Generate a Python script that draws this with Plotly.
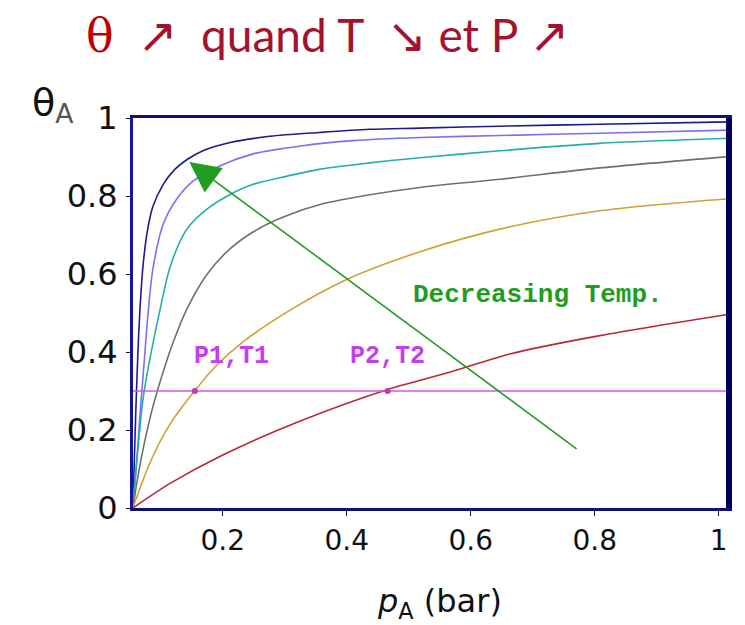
import plotly.graph_objects as go

# ---- data (p_A in bar, theta_A) ----
navy_x = [0.055, 0.057, 0.060, 0.063, 0.066, 0.071, 0.078, 0.087, 0.104, 0.123, 0.142, 0.168, 0.212, 0.276, 0.357, 0.437, 0.518, 0.647, 0.808, 1.016]
navy_y = [0.0, 0.105, 0.262, 0.393, 0.497, 0.615, 0.707, 0.772, 0.830, 0.869, 0.893, 0.916, 0.937, 0.953, 0.963, 0.971, 0.974, 0.979, 0.984, 0.990]

purple_x = [0.055, 0.062, 0.068, 0.074, 0.079, 0.087, 0.104, 0.126, 0.152, 0.195, 0.249, 0.329, 0.410, 0.518, 0.647, 0.808, 1.016]
purple_y = [0.0, 0.140, 0.270, 0.390, 0.490, 0.610, 0.728, 0.793, 0.838, 0.877, 0.908, 0.929, 0.942, 0.950, 0.955, 0.961, 0.969]

teal_x = [0.055, 0.062, 0.071, 0.079, 0.087, 0.099, 0.115, 0.142, 0.175, 0.212, 0.249, 0.304, 0.357, 0.437, 0.518, 0.647, 0.808, 1.016]
teal_y = [0.0, 0.131, 0.275, 0.353, 0.419, 0.510, 0.618, 0.715, 0.767, 0.804, 0.830, 0.851, 0.869, 0.885, 0.898, 0.916, 0.935, 0.948]

gray_x = [0.055, 0.063, 0.074, 0.087, 0.104, 0.120, 0.142, 0.175, 0.212, 0.260, 0.304, 0.357, 0.437, 0.518, 0.647, 0.808, 1.016]
gray_y = [0.0, 0.080, 0.170, 0.258, 0.350, 0.425, 0.510, 0.600, 0.665, 0.718, 0.750, 0.778, 0.803, 0.822, 0.843, 0.872, 0.901]

orange_x = [0.055, 0.083, 0.115, 0.155, 0.187, 0.231, 0.304, 0.400, 0.518, 0.647, 0.808, 1.016]
orange_y = [0.0, 0.118, 0.215, 0.301, 0.361, 0.424, 0.503, 0.586, 0.657, 0.715, 0.762, 0.793]

red_x = [0.055, 0.115, 0.200, 0.325, 0.466, 0.566, 0.663, 0.808, 1.016]
red_y = [0.0, 0.063, 0.136, 0.223, 0.304, 0.348, 0.395, 0.442, 0.497]

level_x = [0.055, 1.016]
level_theta = 0.3
point_x = [0.155, 0.466]
point_labels = ["P1,T1", "P2,T2"]

x_ticks = [0.2, 0.4, 0.6, 0.8, 1]
x_tick_text = ["0.2", "0.4", "0.6", "0.8", "1"]
y_ticks = [0, 0.2, 0.4, 0.6, 0.8, 1]
y_tick_text = ["0", "0.2", "0.4", "0.6", "0.8", "1"]

arrow_tail = (0.773, 0.149)
arrow_head = (0.146, 0.887)
arrow_label = "Decreasing Temp."

X_RANGE = [0.0552, 1.0165]
Y_RANGE = [0, 1]

curves = [
    (navy_x, navy_y, "#1c1c8c"),
    (purple_x, purple_y, "#7f6ff0"),
    (teal_x, teal_y, "#22b0a6"),
    (gray_x, gray_y, "#707070"),
    (orange_x, orange_y, "#d2a030"),
    (red_x, red_y, "#b82838"),
]

fig = go.Figure()
for cx, cy, col in curves:
    fig.add_trace(go.Scatter(x=cx, y=cy, mode="lines",
                             line=dict(color=col, width=1.6, shape="spline", smoothing=0.8),
                             hoverinfo="skip", showlegend=False))

fig.add_trace(go.Scatter(x=level_x, y=[level_theta] * len(level_x), mode="lines",
                         line=dict(color="#d655ee", width=1.6), showlegend=False))
fig.add_trace(go.Scatter(x=point_x, y=[level_theta] * len(point_x), mode="markers",
                         marker=dict(color="#c03aa8", size=6), showlegend=False))

for px_, lab in zip(point_x, point_labels):
    fig.add_annotation(x=px_, y=level_theta, text="<b>%s</b>" % lab, showarrow=False,
                       xanchor="center" if lab == "P2,T2" else "left",
                       yanchor="bottom", yshift=18, xshift=-3 if lab == "P1,T1" else 0,
                       font=dict(family="Liberation Mono", size=25, color="#c63cf0"))

fig.add_annotation(x=arrow_head[0], y=arrow_head[1], ax=arrow_tail[0], ay=arrow_tail[1],
                   xref="x", yref="y", axref="x", ayref="y", text="",
                   showarrow=True, arrowhead=2, arrowsize=3.8, arrowwidth=1.6,
                   arrowcolor="#229c22", standoff=0)

fig.add_annotation(x=0.709, y=0.547, text="<b>%s</b>" % arrow_label, showarrow=False,
                   font=dict(family="Liberation Mono", size=26, color="#1e9e1e"))

# title
sp = "&nbsp;"
arr = "<span style='font-family:DejaVu Sans;font-size:48px'>%s</span>"
fig.add_annotation(xref="paper", yref="paper", x=-0.082, y=1.212, xanchor="left", yanchor="middle",
                   showarrow=False,
                   text=("<span style='font-family:DejaVu Serif;color:#c00000'>θ</span>"
                         + sp * 2 + arr % "↗" + sp * 2 + "quand T" + sp * 2 + arr % "↘"
                         + sp + "et P" + sp + arr % "↗"),
                   font=dict(family="Lato", size=46, color="#a3132e"))

# axis titles
fig.add_annotation(xref="paper", yref="paper", x=-0.172, y=1.035, xanchor="left", yanchor="middle",
                   showarrow=False,
                   text="θ<sub><span style='color:#555555'>A</span></sub>",
                   font=dict(family="DejaVu Sans", size=38, color="#111111"))
fig.add_annotation(xref="paper", yref="paper", x=0.515, y=-0.243, xanchor="center", yanchor="middle",
                   showarrow=False,
                   text="<i>p</i><sub>A</sub> (bar)",
                   font=dict(family="DejaVu Sans", size=32, color="#111111"))

# thick right border
fig.add_shape(type="line", xref="paper", yref="paper", x0=1, x1=1, y0=0, y1=1,
              line=dict(color="#00005a", width=6))

fig.update_xaxes(range=X_RANGE, tickvals=x_ticks, ticktext=x_tick_text,
                 showgrid=False, zeroline=False, showline=True, mirror=True,
                 linecolor="#10107a", linewidth=3, ticks="outside", ticklen=5,
                 tickcolor="#111111", ticklabelstandoff=0,
                 tickfont=dict(family="DejaVu Sans", size=28, color="#111111"))
fig.update_yaxes(range=Y_RANGE, tickvals=y_ticks, ticktext=y_tick_text,
                 showgrid=False, zeroline=False, showline=True, mirror=True,
                 linecolor="#1414a0", linewidth=3, ticks="outside", ticklen=4,
                 tickcolor="#111111", ticklabelstandoff=2,
                 tickfont=dict(family="DejaVu Sans", size=32, color="#111111"))

# page body has an 8px margin: size the figure so the plot area lands where the reference has it
fig.update_layout(width=737, height=617,
                  margin=dict(l=125, r=16, t=110, b=117),
                  paper_bgcolor="white", plot_bgcolor="white",
                  showlegend=False)

fig.write_html("out.html")
